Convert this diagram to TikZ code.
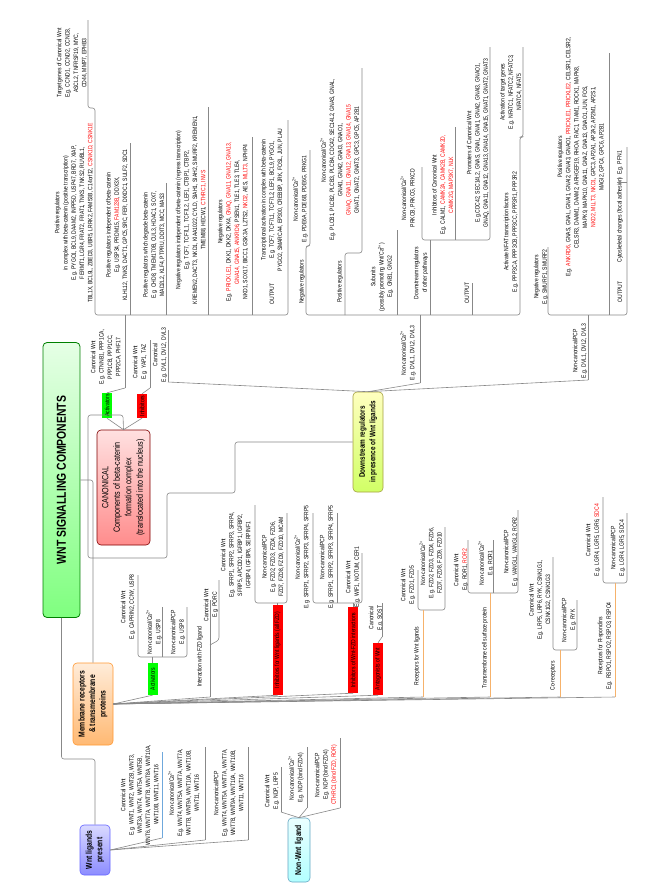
\documentclass[tikz,border=0pt]{standalone}
\usepackage{fontspec}
\newfontfamily\nf{Liberation Sans}[FakeStretch=0.8]
\newcommand{\rd}[1]{\textcolor{red}{#1}}
\newcommand{\cat}{Ca\textsuperscript{2+}}
\definecolor{lgr}{HTML}{888888}
\definecolor{oru}{HTML}{F6B26B}
\definecolor{blu}{HTML}{6FA8DC}
\tikzset{
  tb/.style={rotate=90, inner sep=0pt, align=center, font=\nf\fontsize{6.3}{8.3}\selectfont},
  ul/.style={draw=lgr, line width=0.6pt, rounded corners=2.5pt},
  ulo/.style={ul, draw=oru, line width=0.9pt},
  big/.style={rotate=90, rounded corners=4pt, draw, align=center, inner sep=1pt, line width=0.6pt},
  tag/.style={rotate=90, inner sep=0pt, font=\nf\fontsize{6.3}{7}\selectfont, minimum height=10pt},
  fan/.style={draw=lgr, line width=0.6pt},
}
\begin{document}
\begin{tikzpicture}[x=1pt,y=-1pt]
\useasboundingbox (0,0) rectangle (657,892);
\fill[white] (0,0) rectangle (657,892);

% ---------- main boxes
\node[big, draw=green!50!black, line width=0.8pt, top color=green!10, bottom color=green!50!white, minimum width=275, minimum height=37, font=\nf\bfseries\fontsize{13}{14}\selectfont] (title) at (61.5,480) {WNT SIGNALLING COMPONENTS};
\node[big, draw=red!50!black, top color=red!12, bottom color=red!45!white, minimum width=115, minimum height=53, font=\nf\fontsize{9}{11.5}\selectfont] (pink) at (123.5,487.5) {CANONICAL\\Components of beta-catenin\\formation complex\\(translocated into the nucleus)};
\node[big, draw=yellow!60!black, top color=yellow!25, bottom color=yellow!70!green!60, minimum width=100, minimum height=30, font=\nf\bfseries\fontsize{8}{10.5}\selectfont] (yel) at (368,442) {Downstream regulators\\in presence of Wnt ligands};
\node[big, draw=orange!80, top color=orange!15, bottom color=orange!55, minimum width=82, minimum height=40, font=\nf\bfseries\fontsize{8.5}{10.5}\selectfont] (ora) at (93,704) {Membrane receptors\\\& transmembrane\\proteins};
\node[big, draw=blue!60, top color=blue!15, bottom color=blue!45, minimum width=50, minimum height=30, font=\nf\bfseries\fontsize{8.5}{10.5}\selectfont] (wlp) at (95,850) {Wnt ligands\\present};
\node[big, draw=cyan!50!gray, top color=cyan!8, bottom color=cyan!30, minimum width=64, minimum height=22, font=\nf\bfseries\fontsize{8.5}{10.5}\selectfont] (nwl) at (299,850) {Non-Wnt ligand};

% tags
\node[tag, fill=green, minimum width=25] (act1) at (107,405.5) {Activators};
\node[tag, fill=red, minimum width=24] (inh1) at (142,406) {Inhibitors};
\node[tag, fill=green, minimum width=32] (act2) at (152.5,679) {Activators};
\node[tag, fill=red, minimum width=90] (inhw) at (277.5,650) {Inhibitors for Wnt ligands (all FZD)};
\node[tag, fill=red, minimum width=86] (inhf) at (353,650) {Inhibitors of Wnt-FZD interactions};
\node[tag, fill=red, minimum width=52] (ant) at (378,669) {Antagonists of Wnt};

% ---------- group A (canonical, top left)
\node[tb] (tg) at (72,63) {Target genes of Canonical Wnt\\E.g. CCND1, CCND2, CCND3,\\ASCL2, TNFRSF19, MYC,\\CD44, MMP7, EPHB3};
\node[tb] (b1) at (74,213) {Positive regulators\\in complex with beta-catenin (positive transcription)\\E.g. PYGO1, BCL9, DAAM2, INPP5D, USP47, BRD7, XIAP,\\FERMT1, LGR4, FRAT2, FRAT1, TNKS, TNKS2, RUVBL1,\\TBL1X, BCL9L, ZBED3, UBR5, LRRK2, FAM53B, C14orf12, \rd{CSNK1D, CSNK1E}};
\node[tb] (b2) at (117,225) {Positive regulators independent of beta-catenin\\E.g. USP34, PRDM15, \rd{FAM123B}, DDX3X,\\KLHL12, TNKS, DACT1, GPC5,SRC, FER, DIXDC1, SULF2, SDC1};
\node[tb] (b3) at (154,245) {Positive regulators which degrade beta-catenin\\E.g. CHD8, TMEM170B, CUL3, HDAC1, SOX7,\\MAD2L2, KLF4, PTPRU, DDIT3, MCC, MAS3};
\node[tb] (b4) at (191,210) {Negative regulators independent of beta-catenin (repress transcription)\\E.g. TCF7, TCF7L1, TCF7L2, LEF1, CTBP1, CTBP2,\\KREMEN2, DACT3, NKD1, KIAA1022, CYLD, SIAH1, SIAH2, SMURF2, KREMEN1,\\TMEM88, HECW1, \rd{CTHRC1, INVS}};
\node[tb] (b5) at (233,222) {Negative regulators\\E.g. \rd{PRICKLE1}, DKK1, DKK2, DKK4, \rd{GNAQ, GNA11, GNA12, GNA13,}\\\rd{GNA14, GNA15, ANKRD6}, PSEN1, TLE1, TLE3, TLE4,\\NKD1, SOX17, BICC1, GSK3A, LZTS2, \rd{NKD2}, AES, \rd{MLLT3}, NPHP4};
\node[tb] (b6) at (272,200) {Transcriptional activation in complex with beta-catenin\\E.g. TCF7, TCF7L1, TCF7L2, LEF1, BCL9, PYGO1,\\PYGO2, SMARCA4, EP300, CREBBP, JRK, FOSL, JUN, PLAU};
\node[tb] (out1) at (272,294) {OUTPUT};
\draw[ul] (88,20) -- (88,108) -- (95,108) -- (95,315) -- (288,315) -- (288,120);
\draw[ul] (130,143) -- (130,315);
\draw[ul] (166,183) -- (166,315);
\draw[ul] (208,107) -- (208,315);
\draw[ul] (252,137) -- (252,315);
\draw[ul] (125,315) -- (125,388);

\node[tb] (ctn) at (106,357) {Canonical Wnt\\E.g. CTNNB1, PPP1CA,\\PPP1CB, PPP1CC,\\PPP2CA, PHF17};
\node[tb] (yap) at (140,362) {Canonical Wnt\\E.g. YAP1, TAZ};
\node[tb] (dvlc) at (160,355) {Canonical\\E.g. DVL1, DVL2, DVL3};
\draw[ul] (150,340) -- (150,388);
\draw[ul] (168,330) -- (168,382);
\draw[fan] (act1.east) -- (125,388);
\draw[fan] (inh1.east) -- (150,388);
\draw[fan] (act1.west) -- (pink.east) -- (inh1.west);

% title connectors
\draw[ul] (title.south) -| (ora.east);
\draw[ul] (88,480) -- (88,415) -- (123,415) -- (pink.east);
\draw[ul] (88,480) -- (88,558) -- (167,558) -- (167,493) -- (235,493) -- (235,442) -- (yel.north);
\draw[ul] (title.west) -- (61.5,759) -- (95,759) -- (wlp.east);

% yellow fan
\draw[fan] (yel.east) -- (168,382);
\draw[fan] (yel.east) -- (420,383);
\draw[fan] (yel.east) -- (588,380);

% ---------- group C (non-canonical Ca2+)
\node[tb] (cadvl) at (408,353) {Non-canonical/\cat\\E.g. DVL1, DVL2, DVL3};
\draw[ul] (420,383) -- (420,315);
\node[tb] (neg2) at (302,282) {Negative regulators};
\node[tb] (pde) at (300,199) {Non-canonical/\cat\\E.g. PDE6A, PDE6B, PDE6G, PRKG1};
\draw[ul] (310,150) -- (310,246) -- (306,246) -- (306,315) -- (520,315) -- (520,137) -- (523,137) -- (523,47);
\node[tb] (pos2) at (340,282) {Positive regulators};
\node[tb] (plc) at (340,160) {Non-canonical/\cat\\E.g. PLCB1, PLCB2, PLCB3, PLCB4, CDC42, SEC14L2, GNAS, GNAL,\\GNAI1, GNAI2, GNAI3, GNAO1,\\\rd{GNAQ, GNA11, GNA12, GNA13, GNA14, GNA15}\\GNAT1, GNAT2, GNAT3, GPC3, GPC5, AP2B1};
\draw[ul] (362,68) -- (362,253) -- (345,253) -- (345,315);
\node[tb] (sub) at (382,277) {Subunits\\(possibly promoting Wnt/\cat)\\E.g. GNB1, GNG2};
\draw[ul] (397,230) -- (397,315);
\node[tb] (prkc) at (408,198) {Non-canonical/\cat\\PRKCB, PRKCG, PRKCD};
\node[tb] (dro) at (421,273) {Downstream regulators\\of other pathways};
\draw[ul] (422,167) -- (422,240) -- (490,240) -- (490,47);
\draw[ul] (455,127) -- (455,240);
\draw[ul] (430,240) -- (430,315);
\node[tb] (inhc) at (443,185) {Inhibitors of Canonical Wnt\\E.g. CALM1, \rd{CAMK2A, CAMK2B, CAMK2D,}\\\rd{CAMK2G, MAP3K7, NLK}};
\node[tb] (prom) at (478,143) {Promoters of Canonical Wnt\\E.g.CDC42, SEC14L2, GNAS, GNAL, GNAI1, GNAI2, GNAI3, GNAO1,\\GNAQ, GNA11, GNA12, GNA13, GNA14, GNA15, GNAT1, GNAT2, GNAT3};
\node[tb] (out2) at (467,293) {OUTPUT};
\draw[ul] (472,283) -- (472,315);
\node[tb] (nfat) at (511,232) {Activate NFAT transcription factors\\E.g. PPP3CA, PPP3CB, PPP3CC, PPP3R1, PPP3R2};
\node[tb] (atg) at (511,92) {Activation of target genes\\E.g. NFATC1, NFATC2, NFATC3,\\NFATC4, NFAT5};

% ---------- group D (PCP)
\node[tb] (pcpdvl) at (580,351) {Non-canonical/PCP\\E.g. DVL1, DVL2, DVL3};
\draw[ul] (588,380) -- (588,315);
\node[tb] (smurf) at (541,277) {Negative regulators\\E.g. SMURF1, SMURF2};
\node[tb] (ankrd) at (581,157) {Positive regulators\\E.g. \rd{ANKRD6}, GNAS, GNAL, GNAI1, GNAI2, GNAI3, GNAO1, \rd{PRICKLE1, PRICKLE2}, CELSR1, CELSR2,\\CELSR3, DAAM1, DAAM2, ARHGEF19, RHOA, RAC1, TIAM1, ROCK1, MAPK8,\\MAPK9, MAPK10, GNA11, GNAZ, GNA13, GNAO1, JUN, FOS,\\\rd{NKD2, MLLT3, NKD1}, GPC3, AP2A1, AP2A2, AP2M1, AP2S1,\\MAGI2, GPC4, GPC6, AP2B1};
\node[tb] (out3) at (620,292) {OUTPUT};
\node[tb] (cyto) at (620,220) {Cytoskeletal changes (focal adhesion)};
\node[tb] (pfn) at (620,163) {E.g. PFN1};
\draw[ul] (548,247) -- (548,315) -- (627,315) -- (627,147);
\draw[ul] (609,53) -- (609,315);
\draw[lgr, line width=0.6pt] (617,182) -- (627,182);

% ---------- bottom: activators under membrane receptors
\node[tb] (caprin) at (128,607) {Canonical Wnt\\E.g. CAPRIN2, CCNY, USP8};
\node[tb] (uspca) at (154,632) {Non-canonical/\cat\\E.g. USP8};
\node[tb] (usppcp) at (178,632) {Non-canonical/PCP\\E.g. USP8};
\draw[ul] (138,575) -- (138,657) -- (187,657) -- (187,607);
\draw[ul] (162,607) -- (162,657);
\draw[ul] (act2.east) -- (152.5,657);

\node[tb] (intf) at (200,657) {Interaction with FZD ligand};
\node[tb] (porc) at (211,605) {Canonical Wnt\\E.g. PORC};
\draw[ul] (219,580) -- (219,640) -- (210,645);
\draw[ul] (210,697) -- (210,600);

\node[tb] (sfrpc) at (236,555) {Canonical Wnt\\E.g. SFRP1, SFRP2, SFRP3, SFRP4,\\SFRP5, APCDD1, IGFBP1, IGFBP2,\\IGFBP4, IGFBP6, SERPINF1};
\node[tb] (fzdp) at (273,557) {Non-canonical/PCP\\E.g. FZD2, FZD3, FZD4, FZD6,\\FZD7, FZD8, FZD9, FZD10, MCAM};
\draw[ul] (255,505) -- (255,603) -- (287,603) -- (287,513);
\draw[ul] (inhw.east) -- (277.5,603);

\node[tb] (sfrpca) at (302,557) {Non-canonical/\cat\\E.g. SFRP1, SFRP2, SFRP3, SFRP4, SFRP5};
\node[tb] (sfrpp) at (327,557) {Non-canonical/PCP\\E.g. SFRP1, SFRP2, SFRP3, SFRP4, SFRP5};
\node[tb] (wif) at (353,577) {Canonical Wnt\\E.g. WIF1, NOTUM, CER1};
\draw[ul] (313,513) -- (313,603) -- (362,603) -- (362,553);
\draw[ul] (337,513) -- (337,603);
\draw[ul] (inhf.east) -- (353,603);

\node[tb] (sost) at (376,618) {Canonical\\E.g. SOST};
\draw[ul] (382,603) -- (382,637);
\draw[ul] (ant.east) -- (382,637);

\node[tb] (recw) at (417,656) {Receptors for Wnt ligands};
\node[tb] (fzdc) at (408,585) {Canonical Wnt\\E.g. FZD1, FZD5};
\node[tb] (fzdca) at (431,563) {Non-canonical/\cat\\E.g. FZD2, FZD3, FZD4, FZD6,\\FZD7, FZD8, FZD9, FZD10};
\draw[ul] (418,570) -- (418,610) -- (445,610) -- (445,527);
\draw[ulo] (423,610) -- (423,697);

\node[tb] (tmp) at (485,648) {Transmembrane cell surface protein};
\node[tb] (rorc) at (461,570) {Canonical Wnt\\E.g. ROR1, \rd{ROR2}};
\node[tb] (rorca) at (486,563) {Non-canonical/\cat\\E.g. ROR1};
\node[tb] (vangl) at (511,552) {Non-canonical/PCP\\E.g. VANGL1, VANGL2, ROR2};
\draw[ul] (468,540) -- (468,593) -- (518,593) -- (518,510);
\draw[ul] (493,540) -- (493,593);
\draw[ulo] (490,593) -- (490,697);

\node[tb] (cor) at (553,676) {Co-receptors};
\node[tb] (lrp) at (540,600) {Canonical Wnt\\E.g. LRP5, LRP6, RYK, CSNK1G1,\\CSNK1G2, CSNK1G3};
\node[tb] (ryk) at (569,620) {Non-canonical/PCP\\E.g. RYK};
\draw[ul] (553,557) -- (553,650) -- (577,650) -- (577,600);
\draw[ulo] (560,650) -- (560,697);

\node[tb] (rsp) at (605,646) {Receptors for R-spondins\\E.g. RSPO1, RSPO2, RSPO3, RSPO4};
\node[tb] (lgrc) at (593,540) {Canonical Wnt\\E.g. LGR4, LGR5, LGR6, \rd{SDC4}};
\node[tb] (lgrp) at (618,548) {Non-canonical/PCP\\E.g. LGR4, LGR5, SDC4};
\draw[ul] (603,497) -- (603,583) -- (627,583) -- (627,513);
\draw[ulo] (615,583) -- (615,697);

% orange fan
\foreach \p in {(act2.west),(210,697),(inhw.west),(inhf.west),(ant.west),(423,697),(490,697),(560,697),(615,697)}
  \draw[fan] (ora.south) -- \p;

% ---------- wnt ligands
\node[tb] (wntc) at (140,795) {Canonical Wnt\\E.g. WNT1, WNT2, WNT2B, WNT3,\\WNT3A, WNT4, WNT5A, WNT5B,\\WNT6, WNT7A, WNT7B, WNT8A, WNT10A,\\WNT10B, WNT11, WNT16};
\node[tb] (wntca) at (184,793) {Non-canonical/\cat\\E.g. WNT4, WNT5A, WNT7A, WNT7A,\\WNT7B, WNT9A, WNT10A, WNT10B,\\WNT11, WNT16};
\node[tb] (wntp) at (229,793) {Non-canonical/PCP\\E.g. WNT4, WNT5A, WNT7A, WNT7A,\\WNT7B, WNT9A, WNT10A, WNT10B,\\WNT11, WNT16};
\draw[ul, draw=blu] (162,752) -- (162,838);
\draw[ul] (205,747) -- (205,840);
\draw[ul] (248,747) -- (248,840);
\draw[fan] (wlp.south) -- (162,838);
\draw[fan] (wlp.south) -- (205,840);
\draw[fan] (wlp.south) -- (248,840);

% ---------- non-wnt ligand
\node[tb] (ndpc) at (272,791) {Canonical Wnt\\E.g. NDP, LRP5};
\node[tb] (ndpca) at (296,778) {Non-canonical/\cat\\E.g. NDP (bind FZD4)};
\node[tb] (ndpp) at (326,775) {Non-canonical/PCP\\E.g. NDP (bind FZD4)\\\rd{CTHRC1 (bind FZD, ROR)}};
\draw[ul] (281,767) -- (281,812);
\draw[ul] (307,747) -- (307,808);
\draw[ul] (340,738) -- (340,808);
\draw[fan] (nwl.east) -- (281,812);
\draw[fan] (nwl.east) -- (307,808);
\draw[fan] (nwl.east) -- (340,808);
\end{tikzpicture}
\end{document}
